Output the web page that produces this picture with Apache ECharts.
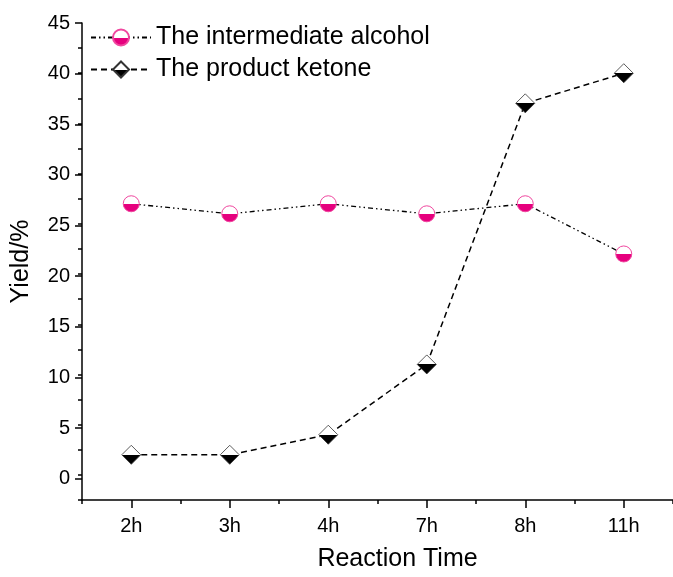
<!DOCTYPE html>
<html><head><meta charset="utf-8">
<script src="https://cdn.jsdelivr.net/npm/echarts@6/dist/echarts.min.js"></script>
<style>html,body{margin:0;padding:0;background:#fff}#c{width:673px;height:577px}</style>
</head><body><div id="c"></div>
<script>
var categories = ['2h','3h','4h','7h','8h','11h'];
var alcohol = [27, 26, 27, 26, 27, 22];
var ketone = [2, 2, 4, 11, 37, 40];
var seriesNames = ['The intermediate alcohol', 'The product ketone'];

var chart = echarts.init(document.getElementById('c'));
function halfFill(bottom){
  return new echarts.graphic.LinearGradient(0,0,0,1,[
    {offset:0,color:'#ffffff'},{offset:0.5,color:'#ffffff'},
    {offset:0.5,color:bottom},{offset:1,color:bottom}]);
}
var FONT = 'Liberation Sans, Arial, sans-serif';
var unit = 481/47.5;
chart.setOption({
  animation:false,
  backgroundColor:'#fff',
  textStyle:{fontFamily:FONT},
  grid:[
    {left:82, top:23, width:605, height:481},
    {left:82, top:23, width:605, height:45*unit}
  ],
  legend:{
    left:85, top:20, orient:'vertical', itemGap:7,
    itemWidth:60, itemHeight:20,
    textStyle:{fontFamily:FONT, fontSize:25, color:'#000'},
    data:seriesNames
  },
  xAxis:[
    {type:'category', gridIndex:0, data:categories, boundaryGap:true, position:'bottom',
     name:'Reaction Time', nameLocation:'middle', nameGap:47,
     nameTextStyle:{fontSize:25, color:'#000', padding:[0,0,0,40]},
     axisLine:{show:true, onZero:false, lineStyle:{color:'#000', width:1.5}},
     axisTick:{show:true, alignWithLabel:true, interval:0, inside:false, length:8, lineStyle:{color:'#000', width:1.5}},
     axisLabel:{show:true, interval:0, fontSize:20, color:'#000', margin:16},
     splitLine:{show:false}},
    {type:'category', gridIndex:0, data:categories, boundaryGap:true, position:'bottom',
     axisLine:{show:false, onZero:false},
     axisTick:{show:true, interval:0, inside:false, length:4, lineStyle:{color:'#000', width:1.5}},
     axisLabel:{show:false}, splitLine:{show:false}},
    {type:'category', gridIndex:1, data:categories, show:false}
  ],
  yAxis:[
    {type:'value', gridIndex:0, min:-2.5, max:45, interval:2.5,
     name:'Yield/%', nameLocation:'middle', nameGap:48,
     nameTextStyle:{fontSize:25, color:'#000'},
     axisLine:{show:true, onZero:false, lineStyle:{color:'#000', width:1.5}},
     axisTick:{show:true, length:4, lineStyle:{color:'#000', width:1.5}},
     axisLabel:{show:false}, splitLine:{show:false}},
    {type:'value', gridIndex:1, min:0, max:45, interval:5,
     axisLine:{show:false, onZero:false},
     axisTick:{show:true, length:7, lineStyle:{color:'#000', width:1.5}},
     axisLabel:{fontSize:20, color:'#000', margin:12},
     splitLine:{show:false}}
  ],
  series:[
    {name:seriesNames[0], type:'line', xAxisIndex:0, yAxisIndex:0, data:alcohol,
     symbol:'circle', symbolSize:16,
     lineStyle:{color:'#000', width:1.3, type:[5,3,1.5,3,1.5,3]},
     itemStyle:{color:halfFill('#e6007e'), borderColor:'#f0479f', borderWidth:1}},
    {name:seriesNames[1], type:'line', xAxisIndex:0, yAxisIndex:0, data:ketone,
     symbol:'diamond', symbolSize:[19,19],
     lineStyle:{color:'#000', width:1.5, type:[6,4]},
     itemStyle:{color:halfFill('#000000'), borderColor:'#333', borderWidth:0.8}}
  ]
});
</script></body></html>
